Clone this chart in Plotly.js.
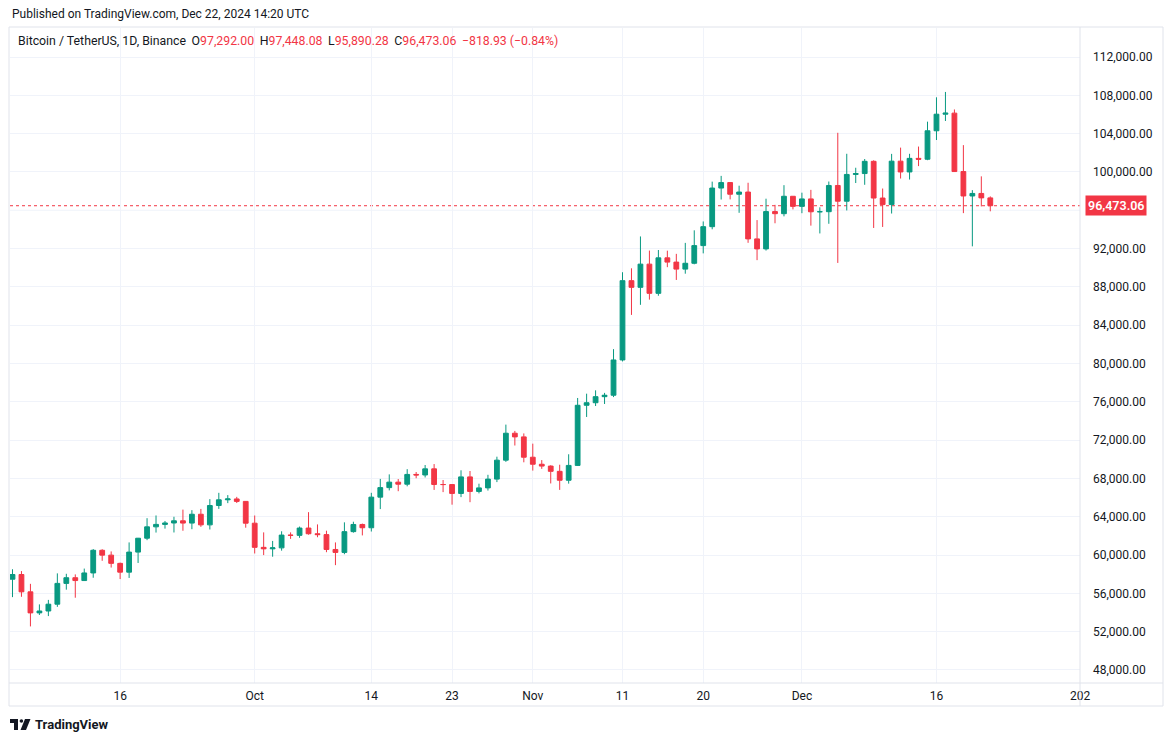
<!DOCTYPE html>
<html>
<head>
<meta charset="utf-8">
<script src="https://cdn.plot.ly/plotly-3.0.1.min.js"></script>
<style>
  html, body { margin: 0; padding: 0; background: #ffffff; }
  #chart { width: 1172px; height: 743px; }
</style>
</head>
<body>
<div id="chart"></div>
<script>
// BTC/USDT daily candles, Binance
var dates = [
  "2024-09-04","2024-09-05","2024-09-06","2024-09-07","2024-09-08","2024-09-09","2024-09-10","2024-09-11","2024-09-12","2024-09-13",
  "2024-09-14","2024-09-15","2024-09-16","2024-09-17","2024-09-18","2024-09-19","2024-09-20","2024-09-21","2024-09-22","2024-09-23",
  "2024-09-24","2024-09-25","2024-09-26","2024-09-27","2024-09-28","2024-09-29","2024-09-30",
  "2024-10-01","2024-10-02","2024-10-03","2024-10-04","2024-10-05","2024-10-06","2024-10-07","2024-10-08","2024-10-09","2024-10-10",
  "2024-10-11","2024-10-12","2024-10-13","2024-10-14","2024-10-15","2024-10-16","2024-10-17","2024-10-18","2024-10-19","2024-10-20",
  "2024-10-21","2024-10-22","2024-10-23","2024-10-24","2024-10-25","2024-10-26","2024-10-27","2024-10-28","2024-10-29","2024-10-30","2024-10-31",
  "2024-11-01","2024-11-02","2024-11-03","2024-11-04","2024-11-05","2024-11-06","2024-11-07","2024-11-08","2024-11-09","2024-11-10",
  "2024-11-11","2024-11-12","2024-11-13","2024-11-14","2024-11-15","2024-11-16","2024-11-17","2024-11-18","2024-11-19","2024-11-20",
  "2024-11-21","2024-11-22","2024-11-23","2024-11-24","2024-11-25","2024-11-26","2024-11-27","2024-11-28","2024-11-29","2024-11-30",
  "2024-12-01","2024-12-02","2024-12-03","2024-12-04","2024-12-05","2024-12-06","2024-12-07","2024-12-08","2024-12-09","2024-12-10",
  "2024-12-11","2024-12-12","2024-12-13","2024-12-14","2024-12-15","2024-12-16","2024-12-17","2024-12-18","2024-12-19","2024-12-20",
  "2024-12-21","2024-12-22"
];

var opens = [
  57480,57970,56160,53962,54160,54869,57042,57635,57338,58132,
  60498,59993,59132,58213,60309,61759,62947,63201,63348,63578,
  63339,64262,63152,65173,65769,65858,65602,
  63327,60805,60649,60752,62086,62058,62819,62224,62134,60582,
  60275,62445,63193,62851,66047,67041,67612,67399,68418,68362,
  69001,67367,67361,66432,68161,66642,67014,67929,69907,72720,72339,
  70215,69482,69289,68741,67811,69359,75639,75905,76538,76688,
  80370,88648,87952,90375,87325,91032,90587,89855,90464,92310,
  94286,98317,98892,97672,97900,93010,91965,95863,95643,97460,
  96407,97185,95840,95849,98587,96945,99740,99831,101109,97276,
  96593,101125,100000,101417,101327,104298,106030,106140,100041,97491,
  97755,97292.00
];
var highs = [
  58519,58327,56995,54850,55318,58088,58044,57981,58588,60625,
  60610,60381,59210,61320,61786,63850,64133,63559,64000,64745,
  64688,64817,65839,66498,66260,66076,65618,
  64130,62370,61477,62484,62370,62975,64478,63200,62543,61320,
  63417,63480,63285,66500,67950,68424,67939,68969,68668,69400,
  69500,67836,67400,68850,68775,67450,68380,70270,73620,72961,72700,
  71632,69914,69374,69432,70522,76400,76849,77199,76932,81500,
  89530,89940,93265,91790,91850,91779,91449,92594,93905,94831,
  98988,99588,98908,98564,98871,94973,97208,96564,98619,97463,
  97836,98130,96305,99000,104088,101898,100439,101351,101215,98270,
  101888,102540,101895,102650,105250,107793,108353,106524,102800,98100,
  99540,97448.08
];
var lows = [
  55606,55643,52550,53745,53629,54591,56387,55545,57325,57632,
  59400,58696,57493,57610,59174,61555,62350,62758,62357,62538,
  62700,62947,62670,64819,65422,65432,62856,
  60164,59996,59828,60459,61689,61798,62128,61860,60300,58946,
  60087,62337,62050,62457,64800,66751,66666,67177,68020,68100,
  66800,66571,65260,66048,65520,66439,66735,67618,69730,71436,69685,
  68820,69000,67478,66803,67458,69298,74416,75560,75773,76493,
  80216,85072,86127,86668,87073,90057,88723,89376,90357,91500,
  94013,97122,97136,95734,92600,90791,91792,94640,95364,96092,
  95693,94395,93578,94587,90500,95981,98844,98657,94150,94256,
  95658,99311,99205,100610,101228,103333,105321,100000,95700,92232,
  96398,95890.28
];
var closes = [
  57970,56160,53962,54160,54869,57042,57635,57338,58132,60498,
  59993,59132,58213,60309,61759,62947,63201,63348,63578,63339,
  64262,63152,65173,65769,65858,65602,63327,
  60805,60649,60752,62086,62058,62819,62224,62134,60582,60275,
  62445,63193,62851,66047,67041,67612,67399,68418,68362,69001,
  67367,67361,66432,68161,66642,67014,67929,69907,72720,72339,70215,
  69482,69289,68741,67811,69359,75639,75905,76538,76688,80370,
  88648,87952,90375,87325,91032,90586,89855,90464,92310,94286,
  98317,98892,97672,97900,93010,91965,95863,95643,97460,96407,
  97185,95840,95849,98587,96945,99740,99831,101109,97276,96593,
  101125,100000,101417,101327,104298,106030,106140,100041,97491,97755,
  97291.99,96473.06
];

var tickDates = ["2024-09-16","2024-10-01","2024-10-14","2024-10-23","2024-11-01","2024-11-11","2024-11-20","2024-12-01","2024-12-16","2025-01-01"];
var tickLabels = ["16","Oct","14","23","Nov","11","20","Dec","16","202"];
// 96,000 is hidden behind the last-price tag in the reference
var priceTicks = [48000,52000,56000,60000,64000,68000,72000,76000,80000,84000,88000,92000,100000,104000,108000,112000];
var hiddenTick = 96000;

var UP = "#089981", DOWN = "#F23645", TXT = "#131722", GRID = "#F0F3FA", BORDER = "#E0E3EB";
var FONT = "Roboto, 'Noto Sans', sans-serif";

// pixel -> paper helpers (plot area 10..1080 x 28..683)
function PX(x) { return (x - 10) / 1070; }
function PY(y) { return (683 - y) / 655; }
function pathOf(pts) {
  return pts.map(function (p, i) { return (i ? "L" : "M") + PX(p[0]) + "," + PY(p[1]); }).join(" ") + " Z";
}

function fmt(v) {
  return v.toLocaleString("en-US", {minimumFractionDigits: 2, maximumFractionDigits: 2});
}
var n = closes.length;
var lastO = opens[n - 1], lastH = highs[n - 1], lastL = lows[n - 1], lastC = closes[n - 1];
var chg = lastC - closes[n - 2];
var pct = chg / closes[n - 2] * 100;
var sp = "\u00a0\u2009";
var red = function (s) { return '<span style="color:' + DOWN + '">' + s + '</span>'; };
var header = "Bitcoin / TetherUS, 1D, Binance" + sp +
  "O" + red(fmt(lastO)) + sp + "H" + red(fmt(lastH)) + sp +
  "L" + red(fmt(lastL)) + sp + "C" + red(fmt(lastC)) + sp +
  red("\u2212" + fmt(Math.abs(chg)) + " (\u2212" + Math.abs(pct).toFixed(2) + "%)");

var trace = {
  type: "candlestick",
  x: dates,
  open: opens,
  high: highs,
  low: lows,
  close: closes,
  increasing: {line: {color: UP, width: 1}, fillcolor: UP},
  decreasing: {line: {color: DOWN, width: 1}, fillcolor: DOWN},
  whiskerwidth: 0,
  hoverinfo: "skip",
  showlegend: false
};

var layout = {
  width: 1172,
  height: 743,
  margin: {l: 10, r: 92, t: 28, b: 60},
  paper_bgcolor: "#ffffff",
  plot_bgcolor: "#ffffff",
  font: {family: FONT, size: 12, color: TXT},
  boxgap: 0.24,
  showlegend: false,
  xaxis: {
    type: "date",
    range: ["2024-09-03 17:20", "2025-01-01 00:00"],
    rangeslider: {visible: false},
    tickvals: tickDates,
    ticktext: tickLabels,
    showgrid: true,
    gridcolor: GRID,
    gridwidth: 1,
    zeroline: false,
    showline: false,
    ticks: "",
    ticklabelstandoff: 4,
    tickfont: {size: 12, color: TXT, family: FONT},
    fixedrange: true
  },
  yaxis: {
    side: "right",
    range: [46642, 115029],
    tickvals: priceTicks,
    tickformat: ",.2f",
    showgrid: true,
    gridcolor: GRID,
    gridwidth: 1,
    zeroline: false,
    showline: false,
    ticks: "",
    ticklabelstandoff: 12,
    tickfont: {size: 12, color: TXT, family: FONT},
    fixedrange: true
  },
  shapes: [
    // grid line under the price tag
    {type: "line", xref: "paper", yref: "y", x0: 0, x1: 1, y0: hiddenTick, y1: hiddenTick,
     line: {color: GRID, width: 1}, layer: "below"},
    // panel border
    {type: "rect", xref: "paper", yref: "paper", x0: PX(9), x1: PX(1163), y0: PY(706), y1: PY(27),
     line: {color: BORDER, width: 1}, fillcolor: "rgba(0,0,0,0)", layer: "above"},
    // price axis separator
    {type: "line", xref: "paper", yref: "paper", x0: 1, x1: 1, y0: PY(706), y1: PY(27),
     line: {color: BORDER, width: 1}, layer: "above"},
    // time axis separator
    {type: "line", xref: "paper", yref: "paper", x0: PX(9), x1: PX(1163), y0: 0, y1: 0,
     line: {color: BORDER, width: 1}, layer: "above"},
    // last price line
    {type: "line", xref: "paper", yref: "y", x0: 0, x1: 1, y0: lastC, y1: lastC,
     line: {color: DOWN, width: 1, dash: "dot"}, layer: "below"},
    // TradingView logo
    {type: "path", xref: "paper", yref: "paper", layer: "above",
     path: pathOf([[10, 719], [18, 719], [18, 730], [14, 730], [14, 723], [10, 723]]),
     fillcolor: TXT, line: {width: 0}},
    {type: "circle", xref: "paper", yref: "paper", layer: "above",
     x0: PX(19.6), x1: PX(23.2), y0: PY(722.8), y1: PY(719.2),
     fillcolor: TXT, line: {width: 0}},
    {type: "path", xref: "paper", yref: "paper", layer: "above",
     path: pathOf([[25, 719], [30.5, 719], [26, 730], [20.5, 730]]),
     fillcolor: TXT, line: {width: 0}}
  ],
  annotations: [
    {xref: "paper", yref: "paper", x: PX(10), y: PY(14), xanchor: "left", yanchor: "middle",
     text: "Published on TradingView.com, Dec 22, 2024 14:20 UTC", showarrow: false,
     font: {size: 12, color: TXT, family: FONT}},
    {xref: "paper", yref: "paper", x: PX(16), y: PY(41), xanchor: "left", yanchor: "middle",
     text: header, showarrow: false, font: {size: 12.3, color: TXT, family: FONT}},
    {xref: "paper", yref: "y", x: 1, y: lastC, xanchor: "left", yanchor: "middle", xshift: 5,
     text: fmt(lastC), showarrow: false, bgcolor: DOWN, borderpad: 2,
     font: {size: 12.5, color: "#ffffff", family: FONT, weight: 600}},
    {xref: "paper", yref: "paper", x: PX(33), y: PY(724.5), xanchor: "left", yanchor: "middle",
     text: "<b>TradingView</b>", showarrow: false, font: {size: 13, color: TXT, family: FONT}}
  ]
};

Plotly.newPlot("chart", [trace], layout, {displayModeBar: false, staticPlot: true});
</script>
</body>
</html>
